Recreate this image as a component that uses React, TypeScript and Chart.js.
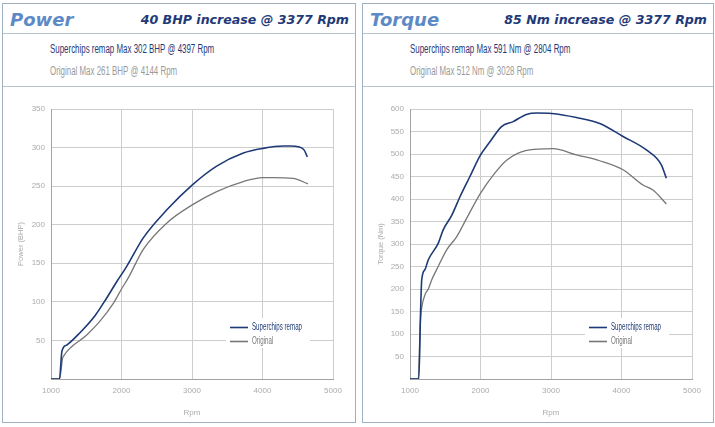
import React, { useEffect, useRef } from "react";
import { Chart, registerables } from "chart.js";

Chart.register(...registerables);

// ---------- DATA ----------
const rpmTickValues = [1000, 2000, 3000, 4000, 5000];
const powerTickValues = [50, 100, 150, 200, 250, 300, 350];
const torqueTickValues = [50, 100, 150, 200, 250, 300, 350, 400, 450, 500, 550, 600];

const powerRemapRpm = [1000, 1120, 1155, 1223, 1411, 1624, 1790, 1932, 2074, 2309, 2640, 3009, 3350, 3728, 4007, 4296, 4400, 4509, 4589, 4636];
const powerRemapBhp = [0, 0, 36, 44, 60, 82, 105, 126, 146, 183, 219, 252, 276, 293, 299, 302, 302, 301, 297, 288];

const powerOrigRpm = [1000, 1120, 1165, 1174, 1506, 1695, 1884, 2002, 2096, 2309, 2640, 3009, 3350, 3728, 4007, 4144, 4433, 4645];
const powerOrigBhp = [0, 0, 27, 29, 57, 75, 98, 117, 131, 168, 202, 226, 243, 256, 261, 261, 260, 253];

const torqueRemapRpm = [1000, 1125, 1150, 1166, 1212, 1260, 1402, 1472, 1590, 1709, 1850, 2001, 2133, 2299, 2463, 2653, 2804, 3007, 3361, 3691, 4022, 4353, 4565, 4636];
const torqueRemapNm = [0, 0, 150, 220, 243, 265, 302, 332, 363, 405, 450, 498, 527, 561, 572, 588, 591, 590, 581, 568, 539, 509, 476, 446];

const torqueOrigRpm = [1000, 1117, 1145, 1156, 1212, 1260, 1307, 1378, 1520, 1661, 1803, 2001, 2181, 2370, 2653, 3031, 3361, 3691, 4022, 4305, 4447, 4636];
const torqueOrigNm = [0, 0, 120, 146, 187, 200, 220, 243, 287, 316, 357, 413, 453, 486, 508, 512, 498, 485, 465, 431, 420, 389];

const seriesNames = ["Superchips remap", "Original"];

// ---------- STYLE ----------
const REMAP_COLOR = "#1d3a76";
const ORIG_COLOR = "#777777";
const SANS = '"Liberation Sans", Arial, sans-serif';
const HEAD = '"DejaVu Sans", "Verdana", sans-serif';
const AXIS_TEXT = "#ababab";

function toPoints(xs: number[], ys: number[]) {
  return xs.map((x, i) => ({ x, y: ys[i] }));
}

const legendPlugin = {
  id: "boxLegend",
  beforeDatasetsDraw(chart: any) {
    const { ctx, chartArea } = chart;
    const l = chartArea.left;
    const t = chartArea.top;
    ctx.save();
    ctx.fillStyle = "#ffffff";
    ctx.fillRect(l + 175, t + 209, 84, 30);
    const rows = [
      { text: seriesNames[0], color: REMAP_COLOR, y: t + 218 },
      { text: seriesNames[1], color: ORIG_COLOR, y: t + 232 },
    ];
    rows.forEach((r) => {
      ctx.strokeStyle = r.color;
      ctx.lineWidth = 1.6;
      ctx.beginPath();
      ctx.moveTo(l + 179, r.y + 0.5);
      ctx.lineTo(l + 197, r.y + 0.5);
      ctx.stroke();
      ctx.save();
      ctx.translate(l + 201, r.y);
      ctx.scale(0.56, 1);
      ctx.font = `11px ${SANS}`;
      ctx.textBaseline = "middle";
      ctx.fillStyle = r.color;
      ctx.fillText(r.text, 0, 0);
      ctx.restore();
    });
    ctx.restore();
  },
};

type ChartProps = {
  left: number;
  width: number;
  plotLeft: number;
  plotRight: number;
  yMax: number;
  yTicks: number[];
  yTitle: string;
  remap: { x: number; y: number }[];
  orig: { x: number; y: number }[];
};

function PerfChart(p: ChartProps) {
  const ref = useRef<HTMLCanvasElement | null>(null);
  useEffect(() => {
    if (!ref.current) return;
    const tickFont = { family: SANS, size: 8 };
    const chart = new Chart(ref.current, {
      type: "line",
      data: {
        datasets: [
          {
            label: seriesNames[0],
            data: p.remap,
            borderColor: REMAP_COLOR,
            borderWidth: 1.6,
            pointRadius: 0,
            cubicInterpolationMode: "monotone",
          },
          {
            label: seriesNames[1],
            data: p.orig,
            borderColor: ORIG_COLOR,
            borderWidth: 1.3,
            pointRadius: 0,
            cubicInterpolationMode: "monotone",
          },
        ],
      },
      options: {
        animation: false,
        responsive: false,
        maintainAspectRatio: false,
        layout: { padding: { top: 22, right: p.width - p.plotRight, left: 0, bottom: 0 } },
        plugins: { legend: { display: false }, tooltip: { enabled: false } },
        scales: {
          x: {
            type: "linear",
            min: 1000,
            max: 5000,
            afterBuildTicks: (s: any) => {
              s.ticks = rpmTickValues.map((v) => ({ value: v }));
            },
            afterFit: (s: any) => {
              s.height = 44;
            },
            ticks: { color: AXIS_TEXT, font: tickFont, padding: 7, callback: (v: any) => String(v) },
            grid: { color: "#cdcdcd", drawTicks: false, lineWidth: 1 },
            border: { color: "#a3a3a3" },
            title: {
              display: true,
              text: "Rpm",
              color: AXIS_TEXT,
              font: { family: SANS, size: 8 },
              padding: { top: 0, bottom: 5 },
            },
          },
          y: {
            type: "linear",
            min: 0,
            max: p.yMax,
            afterBuildTicks: (s: any) => {
              s.ticks = [0, ...p.yTicks].map((v) => ({ value: v }));
            },
            afterFit: (s: any) => {
              s.width = p.plotLeft;
            },
            ticks: {
              color: AXIS_TEXT,
              font: tickFont,
              padding: 6,
              callback: (v: any) => (v === 0 ? "" : String(v)),
            },
            grid: { color: "#cdcdcd", drawTicks: false, lineWidth: 1 },
            border: { color: "#a3a3a3" },
            title: {
              display: true,
              text: p.yTitle,
              color: AXIS_TEXT,
              font: { family: SANS, size: 7.5 },
              padding: { top: 13, bottom: 13 },
            },
          },
        },
      },
      plugins: [legendPlugin],
    } as any);
    return () => chart.destroy();
  }, []);
  return (
    <canvas
      ref={ref}
      width={p.width}
      height={336}
      style={{ position: "absolute", left: p.left, top: 87, width: p.width, height: 336 }}
    />
  );
}

type PanelProps = {
  left: number;
  width: number;
  title: string;
  increase: string;
  remapLine: string;
  origLine: string;
  children: React.ReactNode;
};

const subStyle: React.CSSProperties = {
  position: "absolute",
  fontFamily: SANS,
  fontSize: 12,
  lineHeight: "14px",
  whiteSpace: "nowrap",
  transform: "scaleX(0.66)",
  transformOrigin: "left center",
};

function Panel(p: PanelProps) {
  return (
    <>
      <div
        style={{
          position: "absolute",
          left: p.left,
          top: 3,
          width: p.width,
          height: 420,
          border: "1px solid #9fb0c0",
          boxSizing: "border-box",
          background: "#fff",
        }}
      />
      <div style={{ position: "absolute", left: p.left + 1, top: 33, width: p.width - 2, height: 1, background: "#b7c3ce" }} />
      <div style={{ position: "absolute", left: p.left + 1, top: 86, width: p.width - 2, height: 1, background: "#b7c3ce" }} />
      <div
        style={{
          position: "absolute",
          left: p.left + 8,
          top: 8,
          fontFamily: HEAD,
          fontWeight: 700,
          fontStyle: "italic",
          fontSize: 18,
          lineHeight: "24px",
          color: "#5d8ac6",
          whiteSpace: "nowrap",
        }}
      >
        {p.title}
      </div>
      <div
        style={{
          position: "absolute",
          right: 715 - (p.left + p.width) + 7,
          top: 10,
          fontFamily: HEAD,
          fontWeight: 700,
          fontStyle: "italic",
          fontSize: 12.6,
          lineHeight: "20px",
          color: "#1f3a78",
          whiteSpace: "nowrap",
        }}
      >
        {p.increase}
      </div>
      <div style={{ ...subStyle, left: p.left + 48, top: 42, color: "#1f3a78" }}>{p.remapLine}</div>
      <div style={{ ...subStyle, left: p.left + 48, top: 64, color: "#9a9a9a" }}>{p.origLine}</div>
      {p.children}
    </>
  );
}

export default function App() {
  useEffect(() => {
    document.body.style.margin = "0";
  }, []);
  return (
    <div style={{ position: "relative", width: 715, height: 427, background: "#fff", overflow: "hidden" }}>
      <Panel
        left={2}
        width={354}
        title="Power"
        increase="40 BHP increase @ 3377 Rpm"
        remapLine="Superchips remap Max 302 BHP @ 4397 Rpm"
        origLine="Original Max 261 BHP @ 4144 Rpm"
      >
        <PerfChart
          left={3}
          width={351}
          plotLeft={48}
          plotRight={330}
          yMax={350}
          yTicks={powerTickValues}
          yTitle="Power (BHP)"
          remap={toPoints(powerRemapRpm, powerRemapBhp)}
          orig={toPoints(powerOrigRpm, powerOrigBhp)}
        />
      </Panel>
      <Panel
        left={362}
        width={352}
        title="Torque"
        increase="85 Nm increase @ 3377 Rpm"
        remapLine="Superchips remap Max 591 Nm @ 2804 Rpm"
        origLine="Original Max 512 Nm @ 3028 Rpm"
      >
        <PerfChart
          left={363}
          width={349}
          plotLeft={47}
          plotRight={329}
          yMax={600}
          yTicks={torqueTickValues}
          yTitle="Torque (Nm)"
          remap={toPoints(torqueRemapRpm, torqueRemapNm)}
          orig={toPoints(torqueOrigRpm, torqueOrigNm)}
        />
      </Panel>
    </div>
  );
}
